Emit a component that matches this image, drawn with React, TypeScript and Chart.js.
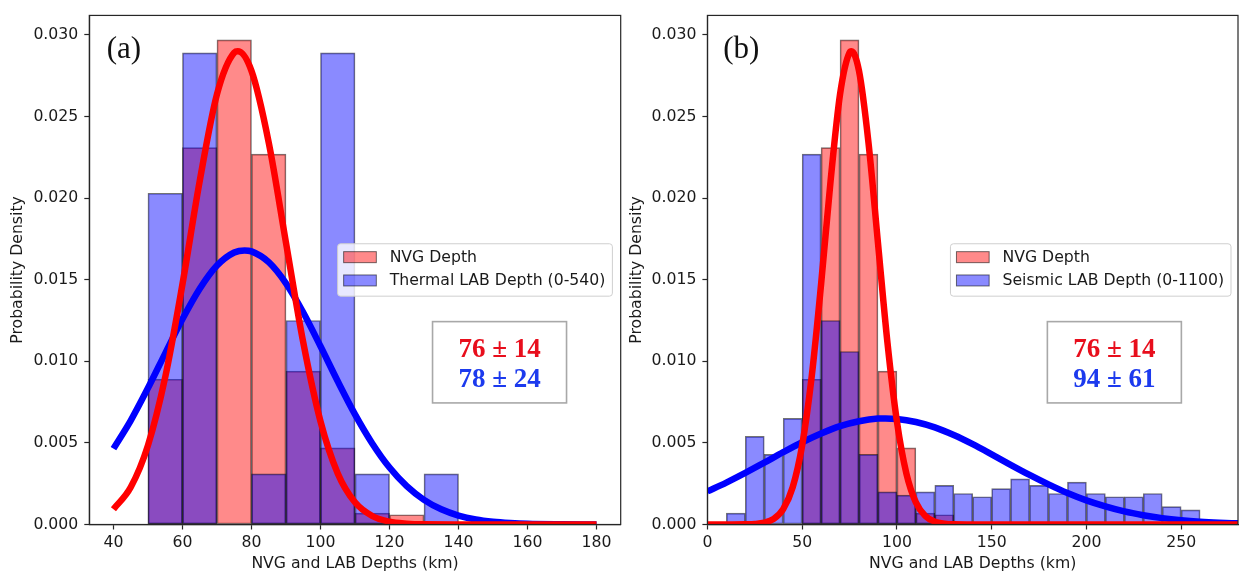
import React, { useEffect, useRef } from "react";
import { Chart, registerables } from "chart.js";

Chart.register(...registerables);

// ---------------- data ----------------
const binWidth = 10;

// NVG depth histogram (same in both panels), bin start values (km)
const nvgBinStarts = [50, 60, 70, 80, 90, 100, 110, 120];
const nvgDensity = [0.0089, 0.0231, 0.0297, 0.0227, 0.0094, 0.0047, 0.0007, 0.0006];

// Thermal LAB depth histogram (panel a)
const thermalBinStarts = [50, 60, 80, 90, 100, 110, 130];
const thermalDensity = [0.0203, 0.0289, 0.0031, 0.0125, 0.0289, 0.0031, 0.0031];

// Seismic LAB depth histogram (panel b)
const seismicBinStarts = [10, 20, 30, 40, 50, 60, 70, 80, 90, 100, 110, 120, 130, 140, 150, 160, 170, 180, 190, 200, 210, 220, 230, 240, 250];
const seismicDensity = [0.0007, 0.0054, 0.0043, 0.0065, 0.0227, 0.0125, 0.0106, 0.0043, 0.002, 0.0018, 0.002, 0.0024, 0.0019, 0.0017, 0.0022, 0.0028, 0.0024, 0.0019, 0.0026, 0.0019, 0.0017, 0.0017, 0.0019, 0.0011, 0.0009];

// Fitted normal curves
const nvgFitX = [0, 10, 20, 25, 30, 35, 40, 45, 50, 55, 60, 65, 70, 75, 76, 80, 85, 90, 95, 100, 105, 110, 115, 120, 125, 130, 140, 180, 230, 280];
const nvgFitY = [0, 0, 0.00001, 0.00003, 0.00011, 0.00034, 0.00094, 0.00228, 0.00485, 0.00903, 0.01473, 0.02105, 0.02637, 0.02892, 0.029, 0.0278, 0.02341, 0.01727, 0.01116, 0.00632, 0.00313, 0.00136, 0.00052, 0.00017, 0.00005, 0.00001, 0, 0, 0, 0];

const thermalFitX = [40, 45, 50, 55, 60, 65, 70, 75, 78, 80, 85, 90, 95, 100, 105, 110, 115, 120, 125, 130, 135, 140, 145, 150, 155, 160, 170, 180];
const thermalFitY = [0.00465, 0.00637, 0.00836, 0.01049, 0.01259, 0.01445, 0.01587, 0.01667, 0.0168, 0.01674, 0.01608, 0.01478, 0.01299, 0.01092, 0.00878, 0.00675, 0.00497, 0.00349, 0.00235, 0.00151, 0.00093, 0.00055, 0.00031, 0.00017, 0.00009, 0.00004, 0.00001, 0];

const seismicFitX = [0, 10, 20, 30, 40, 50, 60, 70, 80, 90, 94, 100, 110, 120, 130, 140, 150, 160, 170, 180, 190, 200, 210, 220, 230, 240, 250, 260, 270, 280];
const seismicFitY = [0.00203, 0.00257, 0.00316, 0.00379, 0.00443, 0.00504, 0.00558, 0.00603, 0.00633, 0.00649, 0.0065, 0.00647, 0.00628, 0.00595, 0.00548, 0.00492, 0.0043, 0.00366, 0.00304, 0.00246, 0.00193, 0.00148, 0.00111, 0.0008, 0.00057, 0.00039, 0.00026, 0.00017, 0.00011, 0.00007];

const xTicksA = [40, 60, 80, 100, 120, 140, 160, 180];
const xTicksB = [0, 50, 100, 150, 200, 250];
const yTicks = [0, 0.005, 0.01, 0.015, 0.02, 0.025, 0.03];

const panelLabels = ["(a)", "(b)"];
const legendLabelsA = ["NVG Depth", "Thermal LAB Depth (0-540)"];
const legendLabelsB = ["NVG Depth", "Seismic LAB Depth (0-1100)"];
const statsA = ["76 ± 14", "78 ± 24"];
const statsB = ["76 ± 14", "94 ± 61"];
const xTitle = "NVG and LAB Depths (km)";
const yTitle = "Probability Density";

// ---------------- styles ----------------
const RED_FILL = "rgba(255,0,0,0.46)";
const BLUE_FILL = "rgba(0,0,255,0.46)";
const EDGE = "rgba(0,0,0,0.55)";
const RED_LINE = "rgb(255,0,0)";
const BLUE_LINE = "rgb(0,0,255)";
const STATS_COLORS = ["rgb(232,14,28)", "rgb(28,58,238)"];
const AXIS = "#262626";
const TEXT = "#1a1a1a";
const FONT_FAMILY = "'DejaVu Sans', sans-serif";
const tickFont = { family: FONT_FAMILY, size: 15.7 };

const decorPlugin = {
  id: "decor",
  afterDatasetsDraw(chart: any, _args: any, o: any) {
    const { ctx, chartArea: ca } = chart;
    ctx.save();
    // frame (all four spines)
    ctx.strokeStyle = AXIS;
    ctx.lineWidth = 1.2;
    ctx.strokeRect(ca.left, ca.top, ca.right - ca.left, ca.bottom - ca.top);

    // panel label
    ctx.fillStyle = "#111";
    ctx.font = '31px "Liberation Serif", serif';
    ctx.textAlign = "left";
    ctx.textBaseline = "alphabetic";
    ctx.fillText(o.label, ca.left + o.labelDx, ca.top + 42.8);

    // legend (center right)
    const bars = chart.data.datasets.filter((d: any) => d.type === "bar");
    ctx.font = "15.7px " + FONT_FAMILY;
    const tw = Math.max(...bars.map((d: any) => ctx.measureText(d.label).width));
    const bw = 52 + tw + 7;
    const bh = 52.4;
    const bx = ca.right - o.legendGap - bw;
    const by = (ca.top + ca.bottom) / 2 - bh / 2;
    ctx.beginPath();
    ctx.roundRect(bx, by, bw, bh, 3);
    ctx.fillStyle = "rgba(255,255,255,0.8)";
    ctx.fill();
    ctx.strokeStyle = "#cfcfcf";
    ctx.lineWidth = 1;
    ctx.stroke();
    bars.forEach((d: any, i: number) => {
      const cy = by + 13.4 + i * 23.3;
      ctx.fillStyle = d.backgroundColor;
      ctx.fillRect(bx + 6, cy - 5.5, 32.7, 11);
      ctx.strokeStyle = d.borderColor;
      ctx.lineWidth = 1;
      ctx.strokeRect(bx + 6, cy - 5.5, 32.7, 11);
      ctx.fillStyle = TEXT;
      ctx.textAlign = "left";
      ctx.textBaseline = "middle";
      ctx.fillText(d.label, bx + 52, cy + 0.5);
    });

    // stats box
    const cx = ca.left + o.statsFrac * (ca.right - ca.left);
    const sw = 134;
    const sh = 81.3;
    const sx = cx - sw / 2;
    const sy = ca.top + 306.2;
    ctx.fillStyle = "#ffffff";
    ctx.fillRect(sx, sy, sw, sh);
    ctx.strokeStyle = "#a8a8a8";
    ctx.lineWidth = 1.6;
    ctx.strokeRect(sx, sy, sw, sh);
    ctx.font = 'bold 27px "Liberation Serif", serif';
    ctx.textAlign = "center";
    ctx.textBaseline = "alphabetic";
    o.stats.forEach((s: string, i: number) => {
      ctx.fillStyle = STATS_COLORS[i];
      ctx.fillText(s, cx, sy + 35.6 + i * 30);
    });
    ctx.restore();
  },
};

type Hist = { label: string; starts: number[]; values: number[]; fill: string; order: number };
type Curve = { xs: number[]; ys: number[]; color: string; order: number; range: [number, number] };

type PanelCfg = {
  left: number;
  width: number;
  xMin: number;
  xMax: number;
  xTicks: number[];
  yAxisWidth: number;
  padRight: number;
  yTitlePad: number;
  hists: Hist[];
  curves: Curve[];
  label: string;
  labelDx: number;
  legendGap: number;
  statsFrac: number;
  stats: string[];
};

function buildConfig(p: PanelCfg): any {
  const barSets = p.hists.map((h) => ({
    type: "bar",
    label: h.label,
    data: h.starts.map((s, i) => ({ x: s + binWidth / 2, y: h.values[i] })),
    backgroundColor: h.fill,
    borderColor: EDGE,
    borderWidth: 1,
    borderSkipped: false,
    grouped: false,
    barPercentage: 1,
    categoryPercentage: 1,
    order: h.order,
  }));
  const lineSets = p.curves.map((c) => ({
    type: "line",
    label: "",
    data: c.xs
      .map((x, i) => ({ x, y: c.ys[i] }))
      .filter((pt) => pt.x >= c.range[0] && pt.x <= c.range[1]),
    borderColor: c.color,
    borderWidth: 6.5,
    pointRadius: 0,
    fill: false,
    cubicInterpolationMode: "monotone",
    clip: 0,
    order: c.order,
  }));
  return {
    type: "line",
    data: { datasets: [...barSets, ...lineSets] },
    plugins: [decorPlugin],
    options: {
      animation: false,
      responsive: false,
      maintainAspectRatio: false,
      events: [],
      layout: { padding: { left: 0, top: 6.5, right: p.padRight, bottom: 0 } },
      plugins: {
        legend: { display: false },
        tooltip: { enabled: false },
        decor: {
          label: p.label,
          labelDx: p.labelDx,
          legendGap: p.legendGap,
          statsFrac: p.statsFrac,
          stats: p.stats,
        },
      },
      scales: {
        x: {
          type: "linear",
          min: p.xMin,
          max: p.xMax,
          offset: false,
          afterBuildTicks: (s: any) => {
            s.ticks = p.xTicks.map((v) => ({ value: v }));
          },
          afterFit: (s: any) => {
            s.height = 52.5;
          },
          grid: {
            display: true,
            drawOnChartArea: false,
            drawTicks: true,
            tickLength: 5,
            tickColor: AXIS,
            tickWidth: 1.2,
            offset: false,
          },
          border: { display: true, color: AXIS, width: 1.2 },
          ticks: {
            padding: 4,
            color: TEXT,
            font: tickFont,
            maxRotation: 0,
            autoSkip: false,
            callback: (v: any) => String(v),
          },
          title: {
            display: true,
            text: xTitle,
            color: TEXT,
            font: tickFont,
            padding: { top: 0, bottom: 4 },
          },
        },
        y: {
          type: "linear",
          min: 0,
          max: 0.0312,
          afterBuildTicks: (s: any) => {
            s.ticks = yTicks.map((v) => ({ value: v }));
          },
          afterFit: (s: any) => {
            s.width = p.yAxisWidth;
          },
          grid: {
            display: true,
            drawOnChartArea: false,
            drawTicks: true,
            tickLength: 5,
            tickColor: AXIS,
            tickWidth: 1.2,
          },
          border: { display: true, color: AXIS, width: 1.2 },
          ticks: {
            padding: 6,
            color: TEXT,
            font: tickFont,
            autoSkip: false,
            callback: (v: any) => Number(v).toFixed(3),
          },
          title: {
            display: true,
            text: yTitle,
            color: TEXT,
            font: tickFont,
            padding: { top: p.yTitlePad, bottom: 0 },
          },
        },
      },
    },
  };
}

const panelA: PanelCfg = {
  left: 0,
  width: 630,
  xMin: 33,
  xMax: 187,
  xTicks: xTicksA,
  yAxisWidth: 89.3,
  padRight: 9.3,
  yTitlePad: 8.6,
  hists: [
    { label: legendLabelsA[0], starts: nvgBinStarts, values: nvgDensity, fill: RED_FILL, order: 3 },
    { label: legendLabelsA[1], starts: thermalBinStarts, values: thermalDensity, fill: BLUE_FILL, order: 2 },
  ],
  curves: [
    { xs: thermalFitX, ys: thermalFitY, color: BLUE_LINE, order: 1, range: [40, 180] },
    { xs: nvgFitX, ys: nvgFitY, color: RED_LINE, order: 0, range: [40, 180] },
  ],
  label: panelLabels[0],
  labelDx: 17.4,
  legendGap: 8.3,
  statsFrac: 0.772,
  stats: statsA,
};

const panelB: PanelCfg = {
  left: 622,
  width: 622,
  xMin: 0,
  xMax: 280,
  xTicks: xTicksB,
  yAxisWidth: 85.4,
  padRight: 6,
  yTitlePad: 5.3,
  hists: [
    { label: legendLabelsB[0], starts: nvgBinStarts, values: nvgDensity, fill: RED_FILL, order: 3 },
    { label: legendLabelsB[1], starts: seismicBinStarts, values: seismicDensity, fill: BLUE_FILL, order: 2 },
  ],
  curves: [
    { xs: seismicFitX, ys: seismicFitY, color: BLUE_LINE, order: 1, range: [0, 280] },
    { xs: nvgFitX, ys: nvgFitY, color: RED_LINE, order: 0, range: [0, 280] },
  ],
  label: panelLabels[1],
  labelDx: 15.8,
  legendGap: 7,
  statsFrac: 0.767,
  stats: statsB,
};

function Panel({ cfg }: { cfg: PanelCfg }) {
  const ref = useRef<HTMLCanvasElement>(null);
  useEffect(() => {
    if (!ref.current) return;
    const chart = new Chart(ref.current, buildConfig(cfg));
    return () => chart.destroy();
  }, [cfg]);
  return (
    <canvas
      ref={ref}
      width={cfg.width}
      height={577}
      style={{ position: "absolute", left: cfg.left, top: 0, width: cfg.width, height: 577 }}
    />
  );
}

export default function App() {
  return (
    <div
      style={{
        position: "absolute",
        left: 0,
        top: 0,
        width: 1244,
        height: 577,
        background: "#ffffff",
        overflow: "hidden",
      }}
    >
      <Panel cfg={panelA} />
      <Panel cfg={panelB} />
    </div>
  );
}
